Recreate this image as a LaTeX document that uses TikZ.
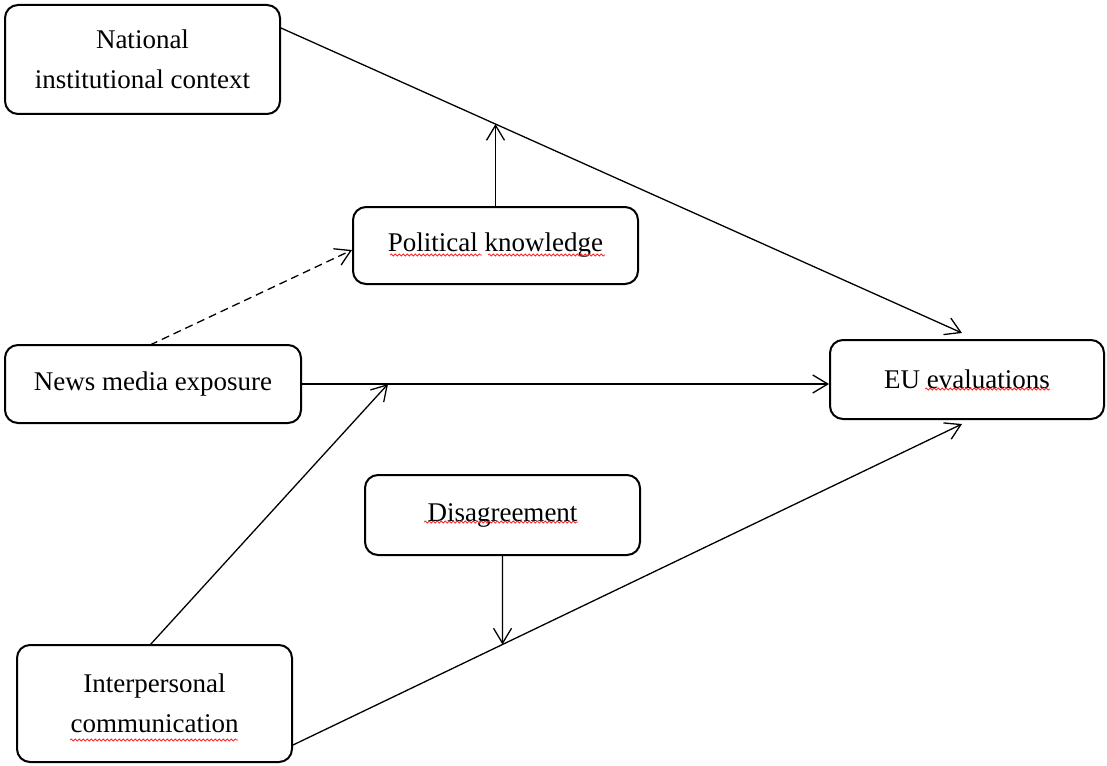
\documentclass[tikz,border=0pt]{standalone}
\usepackage{fontspec}
\setmainfont{Liberation Serif}
\usetikzlibrary{arrows.meta,calc,decorations.pathmorphing}
\begin{document}
\begin{tikzpicture}[x=1pt,y=-1pt,
  box/.style={draw, line width=2pt, rounded corners=13pt, align=center,
    font=\fontsize{27}{40}\selectfont, inner sep=0pt},
  conn/.style={line width=1.3pt, -{Straight Barb[length=15pt,width=18pt,line width=1.3pt]}},
  dashconn/.style={conn, dash pattern=on 8pt off 5pt},
  spell/.style={red!85!white, line width=0.8pt, decorate,
    decoration={snake, segment length=4pt, amplitude=1pt}}]
\useasboundingbox (0,0) rectangle (1107,765);

\node[box, minimum width=275pt, minimum height=109pt] (nat) at (142.5,59.5) {National\\institutional context};
\node[box, minimum width=285pt, minimum height=77pt] (pk) at (495.5,245.5) {Political knowledge};
\node[box, minimum width=296pt, minimum height=78pt] (news) at (153,384) {News media exposure};
\node[box, minimum width=274pt, minimum height=79pt] (eu) at (967,379.5) {EU evaluations};
\node[box, minimum width=275pt, minimum height=80pt] (dis) at (502.5,515) {Disagreement};
\node[box, minimum width=275pt, minimum height=117pt] (int) at (154.5,703.5) {Interpersonal\\communication};

% connector end points
\coordinate (natout) at (nat.east |- 0,28);
\coordinate (euin1) at (962,333);
\coordinate (euin2) at (962,424);
\coordinate (intout) at (int.east |- 0,745);
\coordinate (pkin) at (pk.west |- 0,250);
\coordinate (newsout) at (150,345);
\coordinate (intup) at (150,645);
\coordinate (m1) at (intersection of pk.north--pk.south and natout--euin1);
\coordinate (m2) at (intersection of dis.north--dis.south and intout--euin2);
\coordinate (m3) at (388,384);

\draw[conn] (natout) -- (euin1);
\draw[conn] (pk.north) -- (m1);
\draw[dashconn] (newsout) -- (pkin);
\draw[conn] (news.east) -- (eu.west |- news.east);
\draw[conn] (intup) -- (m3);
\draw[conn] (intout) -- (euin2);
\draw[conn] (dis.south) -- (m2);

% spell-check underlines
\draw[spell] (390,255) -- (482,255);
\draw[spell] (488,255) -- (605,255);
\draw[spell] (925,389) -- (1050,389);
\draw[spell] (424,522) -- (578,522);
\draw[spell] (70,740) -- (238,740);
\end{tikzpicture}
\end{document}
